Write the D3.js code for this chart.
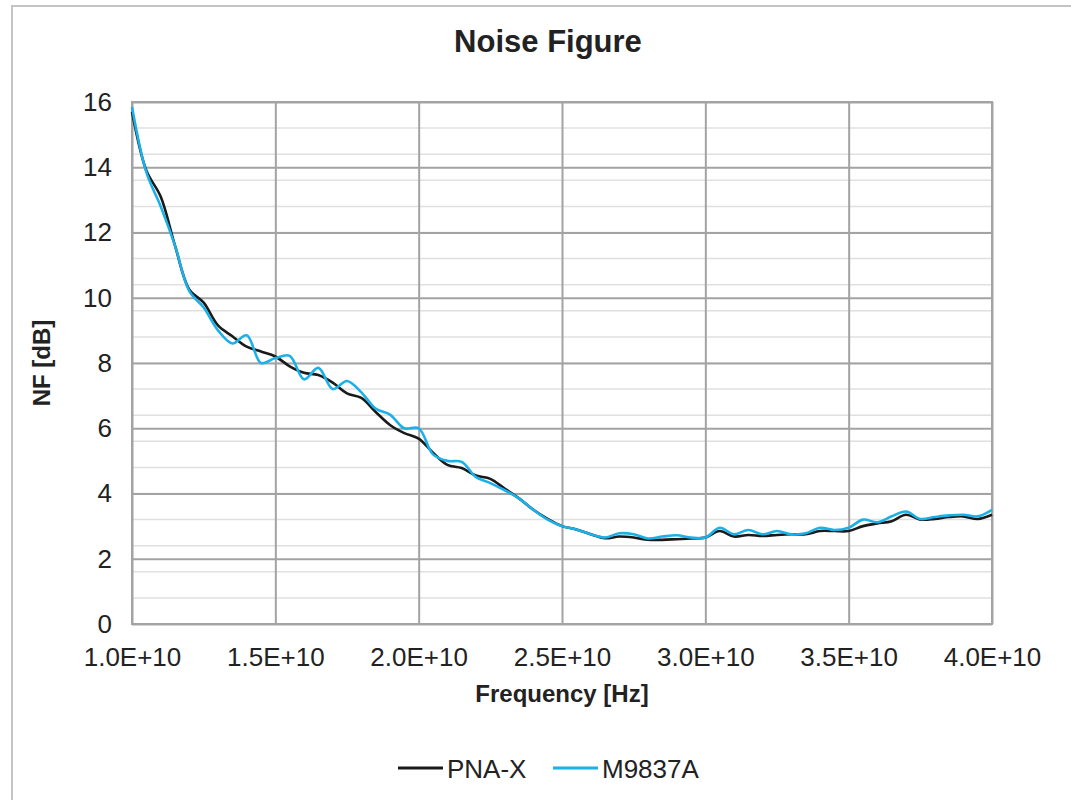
<!DOCTYPE html>
<html>
<head>
<meta charset="utf-8">
<script src="https://cdn.jsdelivr.net/npm/d3@7"></script>
<style>
  body { margin: 0; background: #fff; overflow: hidden; }
  svg { display: block; font-family: "Liberation Sans", Arial, sans-serif; }
</style>
</head>
<body>
<div id="chart"></div>
<script>
// frequency points in GHz
var freqGHz = [10.0, 10.5, 11.0, 11.5, 12.0, 12.5, 13.0, 13.5, 14.0, 14.5,
  15.0, 15.5, 16.0, 16.5, 17.0, 17.5, 18.0, 18.5, 19.0, 19.5,
  20.0, 20.5, 21.0, 21.5, 22.0, 22.5, 23.0, 23.5, 24.0, 24.5,
  25.0, 25.5, 26.0, 26.5, 27.0, 27.5, 28.0, 28.5, 29.0, 29.5,
  30.0, 30.5, 31.0, 31.5, 32.0, 32.5, 33.0, 33.5, 34.0, 34.5,
  35.0, 35.5, 36.0, 36.5, 37.0, 37.5, 38.0, 38.5, 39.0, 39.5, 40.0];

// NF [dB] PNA-X
var pnaX = [15.7, 13.9, 13.1, 11.6, 10.25, 9.85, 9.15, 8.82, 8.5, 8.35,
  8.2, 7.9, 7.7, 7.63, 7.4, 7.07, 6.93, 6.5, 6.1, 5.85,
  5.68, 5.25, 4.88, 4.78, 4.55, 4.45, 4.15, 3.85, 3.5, 3.22,
  3.0, 2.9, 2.75, 2.63, 2.68, 2.65, 2.58, 2.58, 2.6, 2.62,
  2.65, 2.85, 2.68, 2.73, 2.7, 2.73, 2.75, 2.75, 2.85, 2.85,
  2.85, 3.0, 3.08, 3.15, 3.35, 3.2, 3.22, 3.28, 3.3, 3.22, 3.35];

// NF [dB] M9837A
var m9837a = [15.85, 13.85, 12.8, 11.6, 10.2, 9.7, 9.0, 8.6, 8.85, 8.0,
  8.15, 8.22, 7.5, 7.85, 7.2, 7.45, 7.1, 6.6, 6.42, 6.0,
  6.0, 5.2, 5.0, 4.97, 4.5, 4.32, 4.1, 3.85, 3.5, 3.2,
  3.0, 2.9, 2.75, 2.65, 2.78, 2.75, 2.62, 2.68, 2.72, 2.65,
  2.65, 2.95, 2.75, 2.88, 2.75, 2.85, 2.75, 2.78, 2.95, 2.88,
  2.95, 3.2, 3.12, 3.3, 3.45, 3.22, 3.28, 3.33, 3.35, 3.3, 3.5];

var seriesNames = ["PNA-X", "M9837A"];
var seriesColors = ["#1a1a1a", "#1cb0e8"];

var xTicks = [1.0e10, 1.5e10, 2.0e10, 2.5e10, 3.0e10, 3.5e10, 4.0e10];
var yTicks = [0, 2, 4, 6, 8, 10, 12, 14, 16];
var yMinor = d3.range(1, 21).map(function(i) { return i * 0.8; });

var W = 1071, H = 800;
var margin = {top: 102, right: 79, bottom: 176, left: 132},
    width = W - margin.left - margin.right,
    height = H - margin.top - margin.bottom;

var svg = d3.select("#chart").append("svg")
  .attr("width", W).attr("height", H);

// outer chart border (top and left edges visible)
svg.append("path")
  .attr("d", "M12," + H + "V6H" + W)
  .attr("fill", "none")
  .attr("stroke", "#c4c4c4").attr("stroke-width", 2);

var g = svg.append("g")
  .attr("transform", "translate(" + margin.left + "," + margin.top + ")");

var x = d3.scaleLinear().domain([1.0e10, 4.0e10]).range([0, width]);
var y = d3.scaleLinear().domain([0, 16]).range([height, 0]);

// minor horizontal grid
g.selectAll(".minor")
  .data(yMinor)
  .enter().append("line")
    .attr("x1", 0).attr("x2", width)
    .attr("y1", function(d) { return y(d); })
    .attr("y2", function(d) { return y(d); })
    .attr("stroke", "#e0e0e0").attr("stroke-width", 1.5);

// major grid
g.append("g")
  .call(d3.axisLeft(y).tickValues(yTicks).tickSize(-width).tickFormat(""))
  .call(function(a) { a.select(".domain").remove(); })
  .selectAll("line").attr("stroke", "#a3a3a3").attr("stroke-width", 2);

g.append("g")
  .attr("transform", "translate(0," + height + ")")
  .call(d3.axisBottom(x).tickValues(xTicks).tickSize(-height).tickFormat(""))
  .call(function(a) { a.select(".domain").remove(); })
  .selectAll("line").attr("stroke", "#a3a3a3").attr("stroke-width", 2);

// plot frame
g.append("rect")
  .attr("width", width).attr("height", height)
  .attr("fill", "none").attr("stroke", "#a3a3a3").attr("stroke-width", 2);

// tick labels
var yAxis = g.append("g")
  .call(d3.axisLeft(y).tickValues(yTicks).tickSize(0).tickPadding(20));
yAxis.select(".domain").remove();
yAxis.selectAll("text")
  .attr("font-size", "26px").attr("fill", "#222")
  .attr("font-family", "Liberation Sans, Arial, sans-serif");

var xAxis = g.append("g")
  .attr("transform", "translate(0," + height + ")")
  .call(d3.axisBottom(x).tickValues(xTicks).tickSize(0).tickPadding(24)
    .tickFormat(function(d) { return (d / 1e10).toFixed(1) + "E+10"; }));
xAxis.select(".domain").remove();
xAxis.selectAll("text")
  .attr("font-size", "26px").attr("fill", "#222")
  .attr("font-family", "Liberation Sans, Arial, sans-serif");

// lines
var line = d3.line()
  .x(function(d) { return x(d[0] * 1e9); })
  .y(function(d) { return y(d[1]); })
  .curve(d3.curveCatmullRom.alpha(0.5));

[pnaX, m9837a].forEach(function(vals, i) {
  g.append("path")
    .datum(freqGHz.map(function(f, j) { return [f, vals[j]]; }))
    .attr("fill", "none")
    .attr("stroke", seriesColors[i])
    .attr("stroke-width", 2.6)
    .attr("stroke-linejoin", "round")
    .attr("d", line);
});

// titles
svg.append("text")
  .attr("x", 548).attr("y", 52)
  .attr("text-anchor", "middle")
  .attr("font-size", "31px").attr("font-weight", "bold").attr("fill", "#222")
  .text("Noise Figure");

svg.append("text")
  .attr("x", margin.left + width / 2).attr("y", 702)
  .attr("text-anchor", "middle")
  .attr("font-size", "24px").attr("font-weight", "bold").attr("fill", "#222")
  .text("Frequency [Hz]");

svg.append("text")
  .attr("transform", "translate(50," + (margin.top + height / 2) + ") rotate(-90)")
  .attr("text-anchor", "middle")
  .attr("font-size", "24px").attr("font-weight", "bold").attr("fill", "#222")
  .text("NF [dB]");

// legend
var legendX = [398, 553];
var legend = svg.selectAll(".legend")
  .data(seriesNames)
  .enter().append("g")
    .attr("transform", function(d, i) { return "translate(" + legendX[i] + ",768)"; });
legend.append("line")
  .attr("x1", 0).attr("x2", 45)
  .attr("stroke", function(d, i) { return seriesColors[i]; })
  .attr("stroke-width", 3);
legend.append("text")
  .attr("x", 49).attr("y", 10)
  .attr("font-size", "26px").attr("fill", "#222")
  .text(function(d) { return d; });
</script>
</body>
</html>
